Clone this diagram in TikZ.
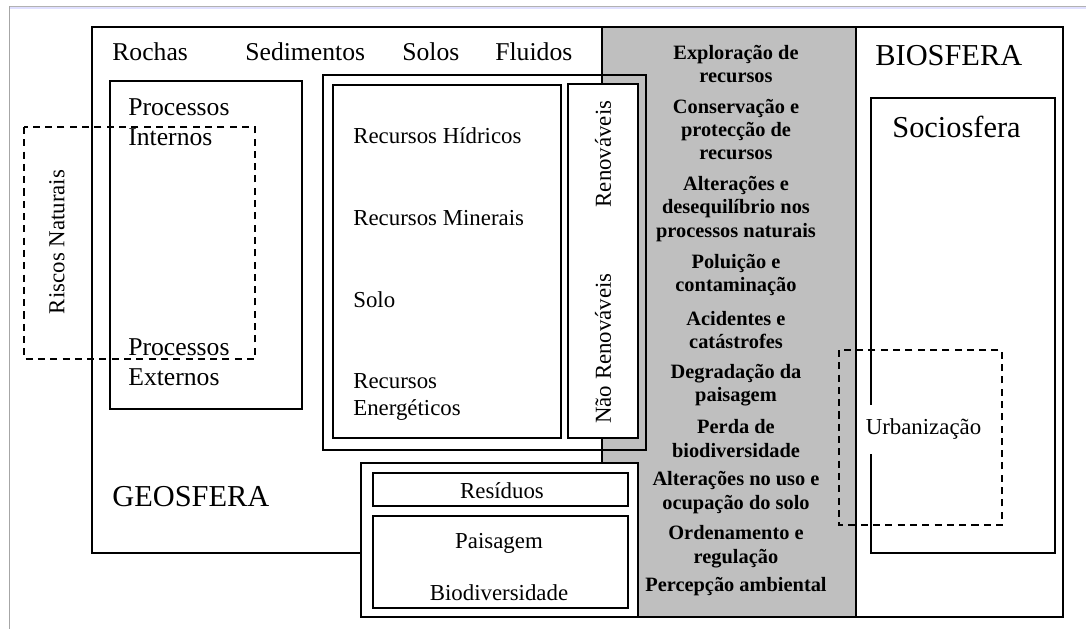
\documentclass[tikz,border=0pt]{standalone}
\usepackage{fontspec}
\setmainfont{Liberation Serif}
\usepackage{xcolor}
\usetikzlibrary{positioning}

\begin{document}
\begin{tikzpicture}[x=0.02cm, y=-0.02cm,
    box/.style={line width=1.1pt},
    riskbox/.style={line width=0.9pt, dash pattern=on 4pt off 3pt},
    lbl/.style={inner sep=0pt, font=\fontsize{14.6}{17.2}\selectfont},
    res/.style={inner sep=0pt, font=\fontsize{13}{15.9}\selectfont},
    big/.style={inner sep=0pt, font=\fontsize{17.3}{20}\selectfont},
    act/.style={inner sep=0pt, align=center, font=\bfseries\fontsize{11.6}{13.3}\selectfont}]
    \useasboundingbox (0,0) rectangle (1086,629);

    % window frame
    \draw[gray!60, line width=0.5pt] (9,6) -- (1086,6);
    \draw[blue!12, line width=1pt] (9,7.8) -- (1086,7.8);
    \draw[gray!70, line width=0.5pt] (9,6) -- (9,629);

    % Geosfera, interface and Biosfera
    \draw[box] (92,27) rectangle (602,553);
    \draw[box, fill=gray!50] (602,27) rectangle (856,617);
    \draw[box] (856,27) rectangle (1063,617);

    % Geosfera contents
    \draw[box] (110,81) rectangle (302,409);
    \draw[box] (323,75) rectangle (646,450);
    \draw[box, fill=white] (333,85) rectangle (561,438);
    \draw[box, fill=white] (568,84) rectangle (638,438);
    \draw[box, fill=white] (361,463) rectangle (638,617);
    \draw[box] (373,473) rectangle (628,506);
    \draw[box] (373,516) rectangle (628,608);

    % Biosfera contents
    \draw[box] (871,98) rectangle (1055,553);

    % hazards and urbanisation
    \draw[riskbox] (24,127) rectangle (255,359);
    \draw[riskbox] (839,350) rectangle (1002,525);

    % labels
    \node[lbl, anchor=west] (rochas) at (112,52) {Rochas};
    \node[lbl, anchor=west] (sedim) at (245,52) {Sedimentos};
    \node[lbl, anchor=west] (solos) at (402,52) {Solos};
    \node[lbl, anchor=west] (fluid) at (495,52) {Fluidos};
    \node[lbl, anchor=west, align=left] (pint) at (128,122) {Processos\\Internos};
    \node[lbl, anchor=west, align=left] (pext) at (128,362.5) {Processos\\Externos};
    \node[big, anchor=west] (geo) at (112,497) {GEOSFERA};
    \node[res, rotate=90] (riscos) at (57,242) {Riscos Naturais};

    \node[res, anchor=west] (hidr) at (353,136) {Recursos Hídricos};
    \node[res, anchor=west] (miner) at (353,218) {Recursos Minerais};
    \node[res, anchor=west] (solo) at (353,300) {Solo};
    \node[res, anchor=west, align=left] (energ) at (353,397) {Recursos\\Energéticos};
    \node[res, rotate=90] (renov) at (603,154) {Renováveis};
    \node[res, rotate=90] (naorenov) at (603,348.5) {Não Renováveis};
    \node[res] (resid) at (502,491) {Resíduos};
    \node[res] (paisag) at (499,543) {Paisagem};
    \node[res] (biodiv) at (499,593) {Biodiversidade};

    \node[act] (a1) at (736,64) {Exploração de\\recursos};
    \node[act] (a2) at (736,129.5) {Conservação e\\protecção de\\recursos};
    \node[act] (a3) at (736,209) {Alterações e\\desequilíbrio nos\\processos naturais};
    \node[act] (a4) at (736,275) {Poluição e\\contaminação};
    \node[act] (a5) at (736,330) {Acidentes e\\catástrofes};
    \node[act] (a6) at (736,385) {Degradação da\\paisagem};
    \node[act] (a7) at (736,438.5) {Perda de\\biodiversidade};
    \node[act] (a8) at (736,492.5) {Alterações no uso e\\ocupação do solo};
    \node[act] (a9) at (736,546.5) {Ordenamento e\\regulação};
    \node[act] (a10) at (736,587) {Percepção ambiental};

    \node[big, anchor=west] (bio) at (875,56) {BIOSFERA};
    \node[big, anchor=west] (socio) at (892,127) {Sociosfera};
    \node[res, fill=white, inner xsep=3pt, minimum height=0.98cm] (urban) at (923.5,429.5) {Urbanização};
\end{tikzpicture}
\end{document}
